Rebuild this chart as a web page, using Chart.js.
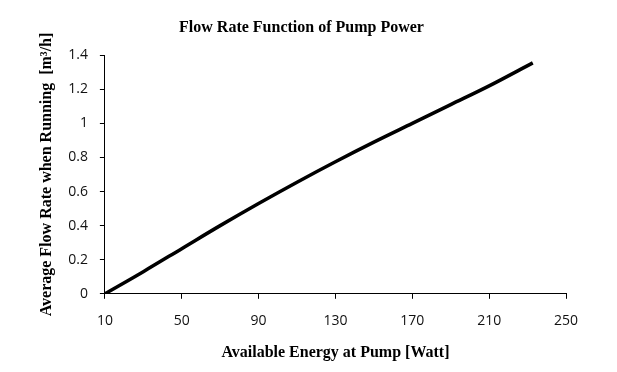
<!DOCTYPE html>
<html>
<head>
<meta charset="utf-8">
<script src="https://cdn.jsdelivr.net/npm/chart.js@4.4.0/dist/chart.umd.min.js"></script>
<style>
html,body{margin:0;padding:0;background:#fff;}
#wrap{width:617px;height:372px;position:relative;}
</style>
</head>
<body>
<div id="wrap"><canvas id="c" width="617" height="372"></canvas></div>
<script>
const energyW = [10, 30, 50, 70, 90, 110, 130, 150, 170, 190, 210, 232.7];
const flowRate = [0, 0.13, 0.265, 0.40, 0.53, 0.655, 0.775, 0.89, 1.0, 1.11, 1.22, 1.355];
const xTicks = [10, 50, 90, 130, 170, 210, 250];
const yTicks = [0, 0.2, 0.4, 0.6, 0.8, 1, 1.2, 1.4];

const points = energyW.map((x, i) => ({x: x, y: flowRate[i]}));
const tickFont = {family: "'Open Sans', 'Liberation Sans', sans-serif", size: 14};
const serifBold = {family: "'Liberation Serif', 'Times New Roman', serif", size: 16, weight: 'bold'};

new Chart(document.getElementById('c'), {
  type: 'line',
  data: {
    datasets: [{
      data: points,
      borderColor: '#000',
      borderWidth: 3.5,
      pointRadius: 0,
      cubicInterpolationMode: 'monotone',
      fill: false
    }]
  },
  options: {
    responsive: false,
    animation: false,
    devicePixelRatio: 1,
    layout: {padding: {left: 37, right: 51, top: 10, bottom: 10}},
    plugins: {
      legend: {display: false},
      tooltip: {enabled: false},
      title: {
        display: true,
        text: 'Flow Rate Function of Pump Power',
        color: '#000',
        font: serifBold,
        padding: {top: 8, bottom: 18}
      }
    },
    scales: {
      x: {
        type: 'linear',
        min: 10, max: 250,
        afterBuildTicks: (ax) => { ax.ticks = xTicks.map(v => ({value: v})); },
        ticks: {color: '#111', font: {...tickFont, lineHeight: 1.0}, padding: 15, maxRotation: 0},
        grid: {drawOnChartArea: false, drawTicks: true, tickLength: 5, color: '#000'},
        border: {color: '#000', width: 1},
        title: {display: true, text: 'Available Energy at Pump [Watt]', color: '#000', font: serifBold, padding: {top: 0, bottom: 0}}
      },
      y: {
        type: 'linear',
        min: 0, max: 1.4,
        afterBuildTicks: (ax) => { ax.ticks = yTicks.map(v => ({value: v})); },
        ticks: {color: '#111', font: tickFont, padding: 12, callback: (v) => String(Math.round(v * 10) / 10)},
        grid: {drawOnChartArea: false, drawTicks: true, tickLength: 5, color: '#000'},
        border: {color: '#000', width: 1},
        title: {display: true, text: 'Average Flow Rate when Running  [m\u00B3/h]', color: '#000', font: serifBold, padding: {top: 0, bottom: 0}}
      }
    }
  }
});
</script>
</body>
</html>
